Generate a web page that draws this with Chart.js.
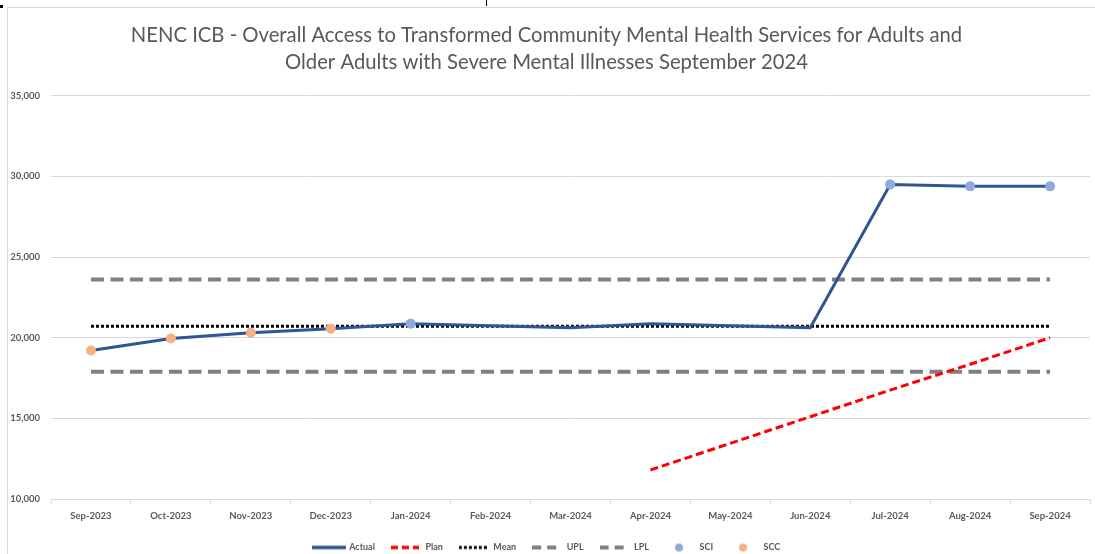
<!DOCTYPE html>
<html>
<head>
<meta charset="utf-8">
<script src="https://cdn.jsdelivr.net/npm/chart.js@4/dist/chart.umd.min.js"></script>
<style>
html,body{margin:0;padding:0;background:#fff;}
#wrap{position:relative;width:1095px;height:554px;overflow:hidden;}
#frame{position:absolute;left:7px;top:7px;width:1100px;height:560px;border-left:1px solid #d9d9d9;border-top:1px solid #d9d9d9;}
#m1{position:absolute;left:0;top:5px;width:3px;height:3px;background:#000;}
#m2{position:absolute;left:486px;top:0;width:1px;height:6px;background:#000;}
canvas{position:absolute;left:0;top:0;}
</style>
</head>
<body>
<div id="wrap">
<div id="frame"></div><div id="m1"></div><div id="m2"></div>
<canvas id="c" width="1095" height="554"></canvas>
</div>
<script>
const categories = ["Sep-2023","Oct-2023","Nov-2023","Dec-2023","Jan-2024","Feb-2024","Mar-2024","Apr-2024","May-2024","Jun-2024","Jul-2024","Aug-2024","Sep-2024"];
const actualValues = [19200,19950,20310,20560,20870,20740,20620,20870,20740,20620,29500,29380,29380];
const planValues   = [null,null,null,null,null,null,null,11800,13450,15100,16750,18350,20000];
const meanValues   = [20710,20710,20710,20710,20710,20710,20710,20710,20710,20710,20710,20710,20710];
const uplValues    = [23600,23600,23600,23600,23600,23600,23600,23600,23600,23600,23600,23600,23600];
const lplValues    = [17880,17880,17880,17880,17880,17880,17880,17880,17880,17880,17880,17880,17880];
const sciValues    = [null,null,null,null,20870,null,null,null,null,null,29500,29380,29380];
const sccValues    = [19200,19950,20310,20560,null,null,null,null,null,null,null,null,null];
const yTicks = [10000,15000,20000,25000,30000,35000];
const titleLines = ["NENC ICB - Overall Access to Transformed Community Mental Health Services for Adults and","Older Adults with Severe Mental Illnesses September 2024"];

function legendImg(kind, color, dash, lw, len){
  const c = document.createElement('canvas');
  c.width = len; c.height = 12;
  const x = c.getContext('2d');
  if(kind === 'line'){
    x.strokeStyle = color; x.lineWidth = lw; x.setLineDash(dash);
    x.beginPath(); x.moveTo(0,6); x.lineTo(len,6); x.stroke();
  } else {
    x.fillStyle = color; x.beginPath(); x.arc(len/2,6,4,0,Math.PI*2); x.fill();
  }
  return c;
}
const LW = 32;
const legendImgs = [
  legendImg('line','#2F5597',[],3.5,LW+2),
  legendImg('line','#FF0000',[7,4],3.5,LW-4),
  legendImg('line','#000000',[3,2],3,LW-4),
  legendImg('line','#808080',[9,6],4,LW-4),
  legendImg('line','#808080',[9,6],4,LW-4),
  legendImg('dot','#8FAADC',[],0,LW),
  legendImg('dot','#F4B183',[],0,LW)
];

const ctx = document.getElementById('c');
new Chart(ctx, {
  type: 'line',
  data: {
    labels: categories,
    datasets: [
      {label:'Actual', data: actualValues, borderColor:'#2F5597', backgroundColor:'#2F5597', borderWidth:3, pointRadius:0, tension:0, order:-1},
      {label:'Plan', data: planValues, borderColor:'#FF0000', backgroundColor:'#FF0000', borderWidth:3, borderDash:[8,4], pointRadius:0, order:0},
      {label:'Mean', data: meanValues, borderColor:'#000000', backgroundColor:'#000000', borderWidth:3, borderDash:[3,2], pointRadius:0, order:0},
      {label:'UPL', data: uplValues, borderColor:'#808080', backgroundColor:'#808080', borderWidth:4, borderDash:[13,6.5], pointRadius:0, order:0},
      {label:'LPL', data: lplValues, borderColor:'#808080', backgroundColor:'#808080', borderWidth:4, borderDash:[13,6.5], pointRadius:0, order:0},
      {label:'SCI', data: sciValues, showLine:false, pointRadius:5, pointBorderWidth:0, pointBackgroundColor:'#8FAADC', borderColor:'#8FAADC', backgroundColor:'#8FAADC', order:-2},
      {label:'SCC', data: sccValues, showLine:false, pointRadius:5, pointBorderWidth:0, pointBackgroundColor:'#F4B183', borderColor:'#F4B183', backgroundColor:'#F4B183', order:-2}
    ]
  },
  options: {
    responsive:false,
    animation:false,
    devicePixelRatio:1,
    layout:{padding:{left:0,right:2,top:0,bottom:-8}},
    plugins:{
      tooltip:{enabled:false},
      title:{display:true, text:titleLines, color:'#595959', font:{family:'Lato', size:20.25, weight:'normal', lineHeight:1.35}, padding:{top:21.5,bottom:19.5}},
      legend:{position:'bottom', labels:{
        usePointStyle:true, pointStyleWidth:LW, padding:14, color:'#595959',
        font:{family:'Lato', size:9, weight:'bold'},
        sort:(a,b)=>a.datasetIndex-b.datasetIndex,
        generateLabels:(chart)=>{
          const items = Chart.defaults.plugins.legend.labels.generateLabels(chart);
          items.forEach(it=>{ it.pointStyle = legendImgs[it.datasetIndex]; });
          return items;
        }
      }}
    },
    scales:{
      x:{
        offset:true,
        grid:{offset:true, drawOnChartArea:false, drawTicks:true, tickLength:5, color:'#D9D9D9'},
        border:{display:true, color:'#D9D9D9'},
        ticks:{color:'#595959', font:{family:'Lato', size:9.5, weight:'bold'}, padding:6, maxRotation:0, autoSkip:false},
        afterFit:(s)=>{ s.height = 30; }
      },
      y:{
        min:10000, max:35000,
        afterBuildTicks:(s)=>{ s.ticks = yTicks.map(v=>({value:v})); },
        grid:{color:'#D9D9D9', drawTicks:false},
        border:{display:false},
        ticks:{color:'#595959', font:{family:'Lato', size:9.5, weight:'bold'}, padding:11, callback:(v)=>v.toLocaleString('en-US')},
        afterFit:(s)=>{ s.width = 51; }
      }
    }
  }
});
</script>
</body>
</html>
